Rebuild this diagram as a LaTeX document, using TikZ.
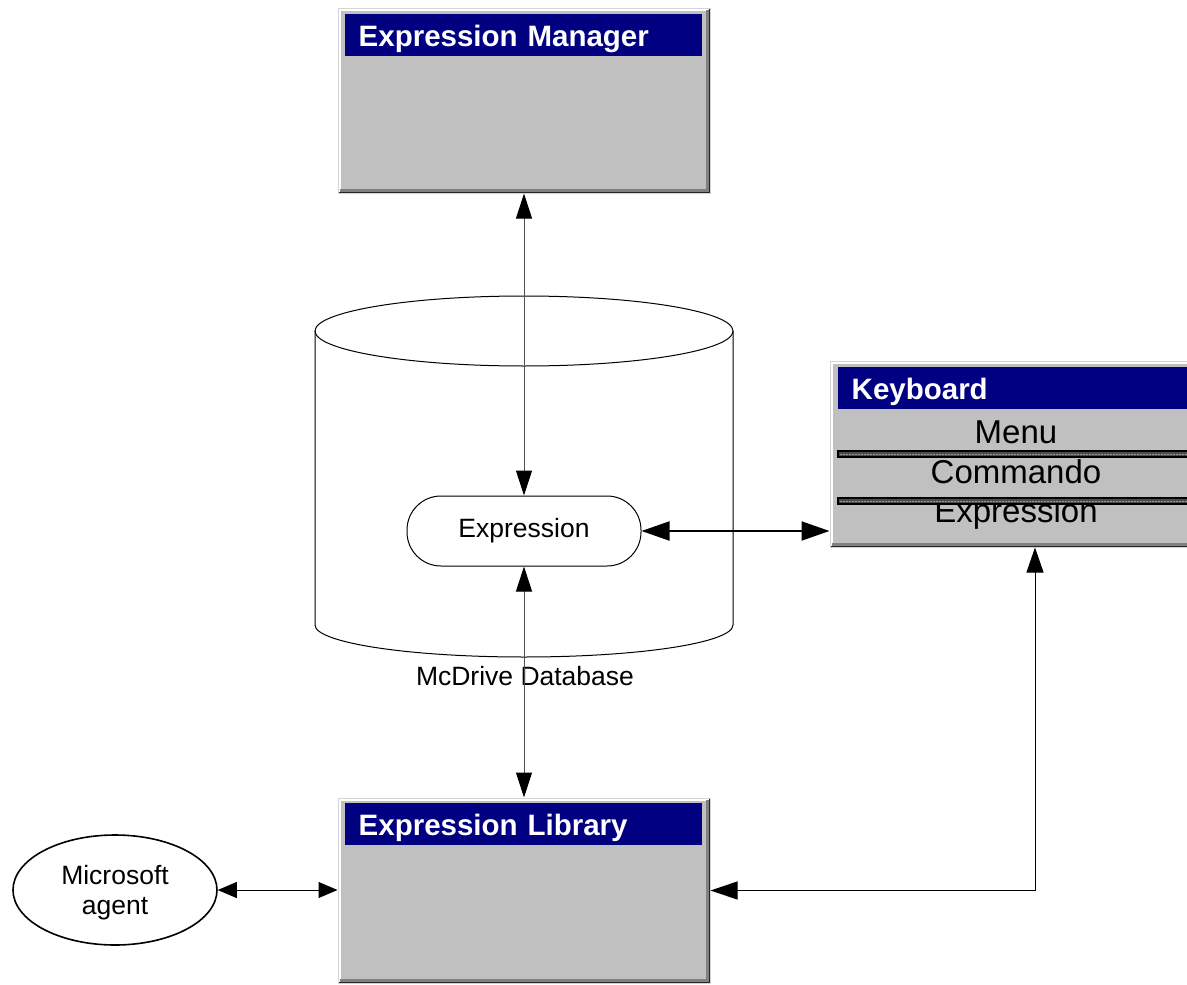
\documentclass[tikz,border=0pt]{standalone}
\usepackage{fontspec}
\setmainfont{Liberation Sans}
\usetikzlibrary{arrows.meta,shapes.geometric,calc}
\definecolor{winface}{HTML}{C0C0C0}
\definecolor{wintitle}{HTML}{000080}
\definecolor{winshadow}{HTML}{808080}
\definecolor{winedge}{HTML}{D4D4D4}
\definecolor{linkgray}{HTML}{505050}

% 3D bevel around a window panel
\newcommand\winbevel[1]{%
  \draw[white,line width=2pt] ([shift={(2,-1)}]#1.south west) -- ([shift={(2,2)}]#1.north west) -- ([shift={(-1,2)}]#1.north east);
  \draw[winshadow,line width=3pt] ([shift={(-3,2)}]#1.north east) -- ([shift={(-3,-3)}]#1.south east) -- ([shift={(2,-3)}]#1.south west);
  \draw[black!85,line width=1pt] ([shift={(-0.8,1)}]#1.north east) -- ([shift={(-0.8,-0.8)}]#1.south east) -- ([shift={(1,-0.8)}]#1.south west);
}
% menu separator bar
\newcommand\menusep[2]{%
  \draw[fill=black!70,draw=black,line width=1.8pt] (838,#1) rectangle (1200,#2);
  \draw[black!40,line width=1pt,dash pattern=on 1.5pt off 1.5pt] (840,{(#1+#2)/2}) -- (1200,{(#1+#2)/2});
}

\begin{document}
\begin{tikzpicture}[x=1pt,y=-1pt,
  panel/.style={fill=winface,draw=winedge,line width=1pt,inner sep=0pt,
    minimum width=372pt,minimum height=185pt},
  titlebar/.style={fill=wintitle,text=white,anchor=north west,inner ysep=0pt,inner xsep=14pt,
    minimum height=42pt,text width=329pt,align=left,text height=25pt,text depth=1pt,
    font=\fontsize{29.5}{30}\selectfont\bfseries},
  item/.style={anchor=base,inner sep=0pt,font=\fontsize{33}{34}\selectfont},
  plain/.style={font=\fontsize{26.5}{30}\selectfont},
  link/.style={draw=linkgray,line width=1pt,{Triangle[length=25pt,width=16pt,color=black]}-{Triangle[length=25pt,width=16pt,color=black]}},
  boldlink/.style={draw=black,line width=2pt,{Triangle[length=28pt,width=19pt]}-{Triangle[length=28pt,width=19pt]}},
  shortlink/.style={draw=black,line width=1pt,{Triangle[length=19pt,width=16pt]}-{Triangle[length=19pt,width=16pt]}}
]
\useasboundingbox (0,0) rectangle (1187,985);
\clip (0,0) rectangle (1187,985);

% database cylinder
\draw[line width=1pt] (315,331) -- (315,625) arc[start angle=180,end angle=0,x radius=209,y radius=32] -- (733,331);
\draw[line width=1pt] (524,331) ellipse[x radius=209,y radius=35];
\node[plain,inner sep=0pt] (dblabel) at (525,676) {McDrive Database};

% windows
\node[panel] (em) at (524,100.5) {};
\winbevel{em}
\node[titlebar] (emt) at ([shift={(7,6)}]em.north west) {Expression Manager};

\node[panel,minimum height=186pt] (kb) at (1016,454) {};
\winbevel{kb}
\node[titlebar] (kbt) at ([shift={(8,6)}]kb.north west) {Keyboard};
\node[item] (kmenu) at (1016,443) {Menu};
\node[item] (kcmd) at (1016,483) {Commando};
\node[item] (kexpr) at (1016,522) {Expression};
\menusep{451}{457}
\menusep{498}{504}

\node[panel] (lib) at (524,890.5) {};
\winbevel{lib}
\node[titlebar] (libt) at ([shift={(7,5)}]lib.north west) {Expression Library};

% expression record and agent
\node[draw,line width=1pt,fill=white,rounded corners=34pt,minimum width=234pt,minimum height=70pt,plain] (expr) at (524,531) {Expression};
\node[draw,ellipse,line width=1.6pt,minimum width=204pt,minimum height=110pt,align=center,plain,text depth=0pt] (ms) at (115,890) {Microsoft\\agent};

% connectors
\draw[link] (em.south) -- (expr.north);
\draw[link] (expr.south) -- (lib.north);
\draw[boldlink] (expr.east) -- (expr.east -| kb.west);
\draw[shortlink] (ms.east) -- (ms.east -| lib.west);
\draw[draw=black,line width=1pt,{Triangle[length=25pt,width=17pt]}-{Triangle[length=27pt,width=18pt]}] ([xshift=19]kb.south) |- (lib.east);
\end{tikzpicture}
\end{document}
